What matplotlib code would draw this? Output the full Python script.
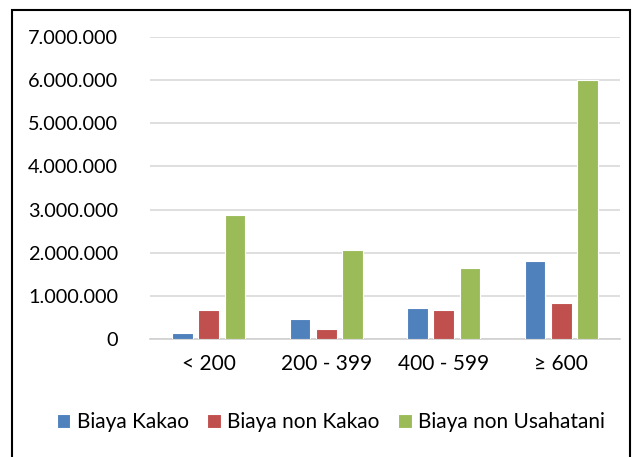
import matplotlib
matplotlib.use("Agg")
import matplotlib.pyplot as plt
import numpy as np
from matplotlib.patches import Rectangle
from matplotlib.ticker import FuncFormatter

categories = ["< 200", "200 - 399", "400 - 599", "\u2265 600"]
series_names = ["Biaya Kakao", "Biaya non Kakao", "Biaya non Usahatani"]
biaya_kakao = [150000, 460000, 710000, 1800000]
biaya_non_kakao = [670000, 230000, 670000, 830000]
biaya_non_usahatani = [2880000, 2060000, 1640000, 6000000]
colors = ["#4F81BD", "#C0504D", "#9BBB59"]

plt.rcParams['font.family'] = ['Lato', 'DejaVu Sans']

fig = plt.figure(figsize=(6.33, 4.57), dpi=100)
ax = fig.add_axes([150/633, 1-339/457, 470/633, 302/457])

x = np.arange(len(categories))
w = 0.175
step = 0.222
for i, (vals, name, c) in enumerate(zip([biaya_kakao, biaya_non_kakao, biaya_non_usahatani], series_names, colors)):
    ax.bar(x + (i-1)*step, vals, width=w, color=c, edgecolor='white', linewidth=0.8, label=name, zorder=3)

ax.set_xlim(-0.5, len(categories)-0.5)
ax.set_ylim(0, 7000000)
ax.set_yticks(np.arange(0, 7000001, 1000000))
ax.yaxis.set_major_formatter(FuncFormatter(lambda v, p: f"{int(v):,}".replace(",", ".")))
ax.set_xticks(x)
ax.set_xticklabels(categories)
ax.grid(axis='y', color='#D9D9D9', linewidth=1.2, zorder=0)
for s in ['top', 'right', 'left']:
    ax.spines[s].set_visible(False)
ax.spines['bottom'].set_color('#D0D0D0')
ax.spines['bottom'].set_linewidth(1.2)
ax.tick_params(axis='y', length=0, labelsize=14.3, colors='black', pad=23)
ax.tick_params(axis='x', length=0, labelsize=15, colors='black', pad=11)

fig.legend(loc='center', bbox_to_anchor=(331/633, 1-422/457), ncol=3, frameon=False,
           fontsize=15, handlelength=0.65, handleheight=0.65, handletextpad=0.3, columnspacing=0.9)

fig.patches.append(Rectangle((12/633, -0.1), (630-12)/633, 1.1-10/457, transform=fig.transFigure,
                             fill=False, edgecolor='black', linewidth=1.5))

fig.savefig("out.png", dpi=100)
